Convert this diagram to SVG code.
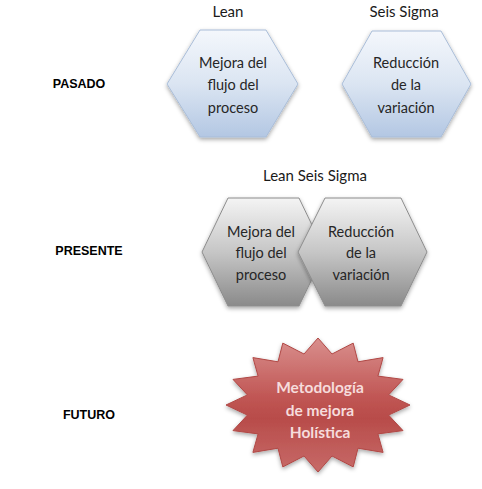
<svg xmlns="http://www.w3.org/2000/svg" width="482" height="489" viewBox="0 0 482 489">
<defs>
<linearGradient id="gBlue" x1="0" y1="0" x2="0" y2="1">
<stop offset="0" stop-color="#f4f7fc"/>
<stop offset="0.5" stop-color="#dbe5f2"/>
<stop offset="1" stop-color="#b3c7e3"/>
</linearGradient>
<linearGradient id="gGray" x1="0" y1="0" x2="0" y2="1">
<stop offset="0" stop-color="#f4f4f4"/>
<stop offset="0.5" stop-color="#c6c6c6"/>
<stop offset="1" stop-color="#8a8a8a"/>
</linearGradient>
<linearGradient id="gRed" x1="0" y1="0" x2="0" y2="1">
<stop offset="0" stop-color="#d98f8d"/>
<stop offset="0.45" stop-color="#c05553"/>
<stop offset="0.6" stop-color="#b84c4a"/>
<stop offset="1" stop-color="#c76a68"/>
</linearGradient>
<filter id="sh" x="-20%" y="-20%" width="140%" height="150%">
<feDropShadow dx="0" dy="2" stdDeviation="2" flood-color="#000" flood-opacity="0.35"/>
</filter>
</defs>
<style>
.lbl{font-family:"Lato","Liberation Sans",sans-serif;font-size:15px;fill:#1a1a1a;text-anchor:middle}
.row{font-family:"Liberation Sans",Arial,sans-serif;font-size:12.5px;font-weight:bold;fill:#000;text-anchor:middle}
.ht{font-family:"Lato","Liberation Sans",sans-serif;font-size:14.5px;fill:#262626;text-anchor:middle}
.st{font-family:"Lato","Liberation Sans",sans-serif;font-size:15.5px;font-weight:bold;fill:#f6dcdc;text-anchor:middle}
.hb{fill:url(#gBlue);stroke:#a9bdd8;stroke-width:1;filter:url(#sh)}
.hg{fill:url(#gGray);stroke:#8c8c8c;stroke-width:1;filter:url(#sh)}
.star{fill:url(#gRed);stroke:#b04845;stroke-width:1;filter:url(#sh)}
</style>
<g id="labels">
<text class="lbl" x="228" y="17">Lean</text>
<text class="lbl" x="404" y="17">Seis Sigma</text>
<text class="lbl" x="315" y="181">Lean Seis Sigma</text>
<text class="row" x="79" y="88">PASADO</text>
<text class="row" x="89" y="255">PRESENTE</text>
<text class="row" x="89" y="419">FUTURO</text>
</g>
<g id="connectors"></g>
<g id="hex-lean">
<polygon class="hb" points="167,84 200,30 266,30 298,84 266,137 200,137"/>
<text class="ht" x="233" y="68">Mejora del</text>
<text class="ht" x="233" y="90">flujo del</text>
<text class="ht" x="233" y="113">proceso</text>
</g>
<g id="hex-sigma">
<polygon class="hb" points="342,84 372,31 441,31 471,84 441,137 372,137"/>
<text class="ht" x="406" y="68">Reducción</text>
<text class="ht" x="406" y="90">de la</text>
<text class="ht" x="406" y="113">variación</text>
</g>
<g id="hex-present-lean">
<polygon class="hg" points="202,252 228,198 299,198 325,252 299,306 228,306"/>
<text class="ht" x="261" y="237">Mejora del</text>
<text class="ht" x="261" y="258">flujo del</text>
<text class="ht" x="261" y="280">proceso</text>
</g>
<g id="hex-present-sigma">
<polygon class="hg" points="298,252 325,198 401,198 427,252 401,306 325,306"/>
<text class="ht" x="361" y="237">Reducción</text>
<text class="ht" x="361" y="258">de la</text>
<text class="ht" x="361" y="280">variación</text>
</g>
<g id="star-futuro">
<polygon class="star" points="318,338 332,354 353.2,343.1 358,361.8 383.1,357.6 377.9,376.1 403,379.4 388.6,394.9 410,405 388.6,415.1 403,430.6 377.9,433.9 383.1,452.4 358,448.2 353.2,466.9 332,456 318,472 304,456 282.8,466.9 278,448.2 252.9,452.4 258.1,433.9 233,430.6 247.4,415.1 226,405 247.4,394.9 233,379.4 258.1,376.1 252.9,357.6 278,361.8 282.8,343.1 304,354"/>
<text class="st" x="320" y="393">Metodología</text>
<text class="st" x="320" y="416">de mejora</text>
<text class="st" x="320" y="438">Holística</text>
</g>
</svg>
